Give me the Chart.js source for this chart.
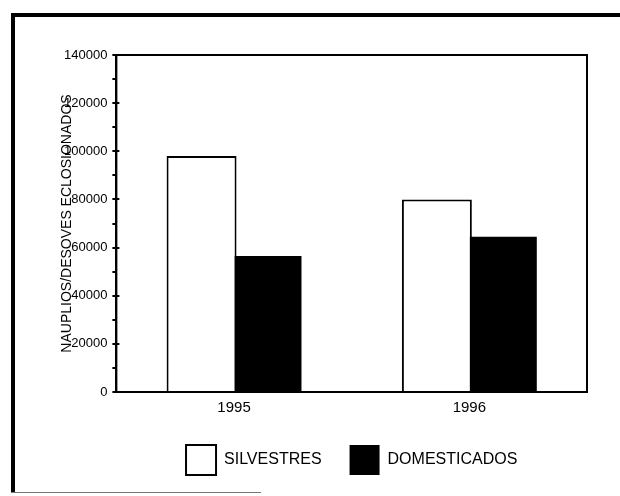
<!DOCTYPE html>
<html>
<head>
<meta charset="utf-8">
<script src="https://cdn.jsdelivr.net/npm/chart.js@4/dist/chart.umd.min.js"></script>
<style>
  html, body { margin:0; padding:0; background:#fff; }
  #wrap { position:relative; width:620px; height:496px; overflow:hidden; }
  .frame { position:absolute; left:11px; top:13px; width:609px; height:480px; border-left:4px solid #000; border-top:4px solid #000; box-sizing:border-box; }
  .base { position:absolute; left:11px; top:492px; width:250px; height:1px; background:#777; }
  canvas { position:absolute; left:0; top:0; }
</style>
</head>
<body>
<div id="wrap">
  <div class="frame"></div>
  <div class="base"></div>
  <canvas id="chart" width="620" height="496"></canvas>
</div>
<script>
const years = ['1995', '1996'];
const silvestres = [98000, 80000];
const domesticados = [56500, 64500];
const yTitle = 'NAUPLIOS/DESOVES ECLOSIONADOS';
const FONT = '"Liberation Sans", Arial, Helvetica, sans-serif';

// frame round the plot, inner halves of the major ticks, and the axis title
// (the title sits over the first digit of the six-digit labels, as in the scan)
const decor = {
  id: 'decor',
  afterDraw(chart) {
    const { ctx, chartArea: a, scales: { y } } = chart;
    ctx.save();
    ctx.strokeStyle = '#000';
    ctx.lineWidth = 2;
    ctx.strokeRect(a.left, a.top, a.right - a.left, a.bottom - a.top);
    ctx.beginPath();
    y.ticks.forEach(t => {
      if (t.value % 20000 === 0) {
        const py = Math.round(y.getPixelForValue(t.value));
        ctx.moveTo(a.left, py); ctx.lineTo(a.left + 3, py);
      }
    });
    ctx.stroke();
    ctx.translate(a.left - 49, (a.top + a.bottom) / 2);
    ctx.rotate(-Math.PI / 2);
    ctx.font = '14px ' + FONT;
    ctx.fillStyle = '#000';
    ctx.textAlign = 'center';
    ctx.textBaseline = 'middle';
    ctx.fillText(yTitle, 0, 0);
    ctx.restore();
  }
};

new Chart(document.getElementById('chart'), {
  type: 'bar',
  data: {
    labels: years,
    datasets: [
      { label: 'SILVESTRES', data: silvestres, backgroundColor: '#fff', borderColor: '#000', borderWidth: 2 },
      { label: 'DOMESTICADOS', data: domesticados, backgroundColor: '#000', borderColor: '#000', borderWidth: 0 }
    ]
  },
  options: {
    responsive: false, animation: false,
    categoryPercentage: 0.552, barPercentage: 1.077,
    layout: { padding: { left: 59, right: 33, top: 55, bottom: 11 } },
    plugins: {
      tooltip: { enabled: false },
      legend: {
        position: 'bottom', fullSize: false,
        labels: { boxWidth: 30, boxHeight: 30, padding: 28, color: '#000', font: { family: FONT, size: 16 } }
      }
    },
    scales: {
      x: {
        grid: { display: false, drawTicks: false },
        border: { color: '#000', width: 2 },
        ticks: { color: '#000', padding: 7, font: { family: FONT, size: 15 } },
        afterFit: s => { s.height = 25; }
      },
      y: {
        min: 0, max: 140000,
        grid: { drawOnChartArea: false, tickLength: 4, color: '#000', lineWidth: 2 },
        border: { color: '#000', width: 2 },
        ticks: {
          stepSize: 10000, color: '#000', padding: 5,
          font: { family: FONT, size: 13 },
          callback: v => v % 20000 === 0 ? String(v) : ''
        }
      }
    }
  },
  plugins: [decor]
});
</script>
</body>
</html>
